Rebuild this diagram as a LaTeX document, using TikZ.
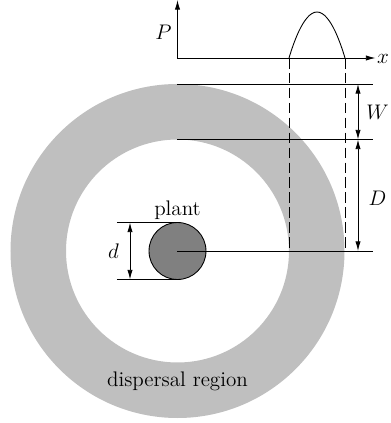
\documentclass[tikz,border=0pt]{standalone}
\usepackage{amsmath, amssymb}
\usetikzlibrary{arrows.meta,calc,positioning}

\begin{document}
\begin{tikzpicture}[x=0.02cm,y=0.02cm,>={Latex[length=5.5pt,width=3pt]},line width=0.5pt,
	lab/.style={font=\large}]
	\useasboundingbox (-177.5,-172) rectangle (212.5,251);
	% dispersal ring and plant
	\fill[gray!50,even odd rule] (0,0) circle[radius=167] (0,0) circle[radius=111.5];
	\coordinate (O) at (0,0);
	\draw[fill=gray] (O) circle[radius=28.5];
	% profile axes
	\coordinate (A) at (0,193);
	\coordinate (Pt) at (0,251);
	\coordinate (Xe) at (198,193);
	\coordinate (b1) at (111.5,193);
	\coordinate (bp) at (139.5,239);
	\coordinate (b2) at (167.5,193);
	\draw[->] (A) -- (Pt);
	\draw[->] (A) -- (Xe);
	\draw (b1) parabola bend (bp) (b2);
	\draw[dash pattern=on 6pt off 2.5pt] (b1) -- (b1 |- O);
	\draw[dash pattern=on 6pt off 2.5pt] (b2) -- (b2 |- O);
	% radii
	\coordinate (r1) at (0,167);
	\coordinate (r2) at (0,111.5);
	\coordinate (e1) at (195.5,167);
	\coordinate (e2) at (195.5,111.5);
	\coordinate (e3) at (195.5,0);
	\draw (r1) -- (e1);
	\draw (r2) -- (e2);
	\draw (O) -- (e3);
	\coordinate (w1) at (180.5,167);
	\coordinate (w2) at (180.5,111.5);
	\coordinate (w3) at (180.5,0);
	\draw[<->] (w1) -- (w2);
	\draw[<->] (w2) -- (w3);
	% plant diameter
	\coordinate (d1) at (-60.5,28.5);
	\coordinate (d2) at (-60.5,-28.5);
	\draw (d1) -- (0,28.5);
	\draw (d2) -- (0,-28.5);
	\draw[<->] ($(d1)+(13,0)$) -- ($(d2)+(13,0)$);
	% labels
	\node[lab] (Plab) at (-14,219) {$P$};
	\node[lab,inner sep=0pt] (xlab) at (205.5,192) {$x$};
	\node[lab] (Wlab) at (200,139) {$W$};
	\node[lab] (Dlab) at (200,53) {$D$};
	\node[lab] (dlab) at (-64,0) {$d$};
	\node[lab] (plant) at (0,41) {plant};
	\node[lab] (region) at (0,-130) {dispersal region};
\end{tikzpicture}
\end{document}
